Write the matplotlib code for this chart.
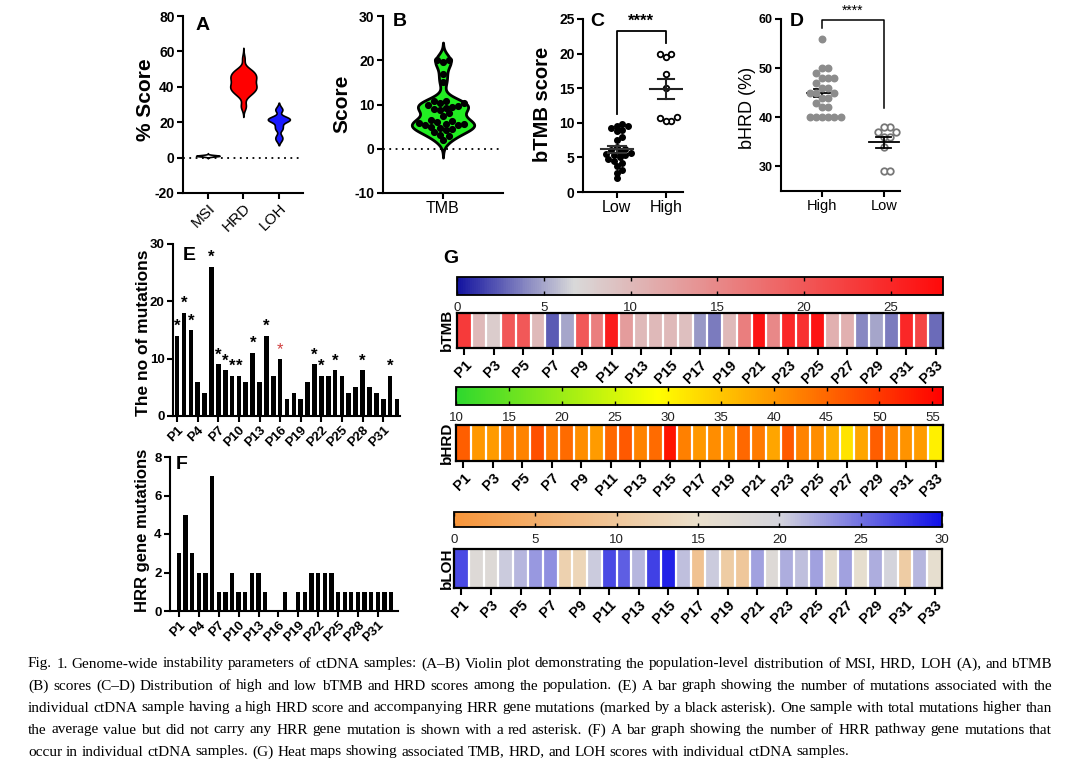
import numpy as np
import matplotlib
matplotlib.use("Agg")
import matplotlib.pyplot as plt
from matplotlib.colors import LinearSegmentedColormap, Normalize
from matplotlib.cm import ScalarMappable

plt.rcParams['font.family'] = ['Liberation Sans', 'DejaVu Sans']

# ---------------- data ----------------
patients = ["P%d" % i for i in range(1, 34)]

msi_score = [1.0, 0.8, 1.2, 1.1, 0.9, 1.0, 1.3, 0.7, 1.0, 1.2, 0.9, 1.1, 1.0, 0.8, 1.4, 1.0, 0.9,
             1.1, 1.2, 1.0, 0.6, 1.0, 1.3, 0.9, 1.1, 1.0, 0.8, 1.2, 1.0, 1.1, 0.9, 1.0, 1.5]

tmb_low = [9.8, 9.6, 9.5, 9.3, 9.0, 8.8, 8.0, 7.5, 6.5, 6.2, 6.0, 5.8, 5.6, 5.5, 5.4, 5.3, 5.0,
           4.8, 4.5, 4.2, 3.8, 3.2, 2.8, 2.0]
tmb_high = [20.0, 20.0, 19.5, 17.0, 15.0, 10.3, 10.8, 10.3, 10.7]

hrd_high = [56, 50, 50, 49, 48, 48, 48, 47, 46, 46, 45, 45, 45, 44, 44, 43, 42, 42, 40, 40, 40, 40, 40, 40]
hrd_low = [38, 37, 38, 37, 36, 36, 34, 29, 29]

total_mutations = [14, 18, 15, 6, 4, 26, 9, 8, 7, 7, 6, 11, 6, 14, 7, 10, 3, 4, 3, 6, 9, 7, 7, 8, 7,
                   4, 5, 8, 5, 4, 3, 7, 3]
black_star = ["P1", "P2", "P3", "P6", "P7", "P8", "P9", "P10", "P12", "P14", "P21", "P22", "P24",
              "P28", "P32"]
red_star = ["P16"]

hrr_mutations = [3, 5, 3, 2, 2, 7, 1, 1, 2, 1, 1, 2, 2, 1, 0, 0, 1, 0, 1, 1, 2, 2, 2, 2, 1, 1, 1,
                 1, 1, 1, 1, 1, 1]

tmb_heat = [23, 10, 8, 20, 20, 10, 2.5, 5, 20, 16, 26, 13, 10, 10, 10, 9.5, 4.5, 3.5, 10, 16, 27,
            15, 25, 24, 27, 11, 11, 4, 5, 3.5, 25, 22, 3]
hrd_heat = [46, 40, 39.5, 43, 42, 47.5, 43, 44.5, 41, 39.5, 45, 46.5, 42, 44.5, 54, 42.5, 40, 41,
            40.5, 45, 43, 38.5, 46.5, 42, 41, 37.5, 32, 38.5, 46, 42, 40.5, 39.5, 30.5]
loh_heat = [27, 18, 18, 20.5, 21.5, 23, 23.5, 12, 13, 20.5, 27, 26, 21.5, 27.5, 29, 21, 9, 20.5,
            11, 10, 22.5, 18, 22, 21, 22.5, 16, 22.5, 16, 22, 20, 11, 21.5, 16]

caption_lines = [
    "Fig. 1.  Genome-wide instability parameters of ctDNA samples: (A–B) Violin plot demonstrating the population-level distribution of MSI, HRD, LOH (A), and bTMB",
    "(B) scores (C–D) Distribution of high and low bTMB and HRD scores among the population. (E) A bar graph showing the number of mutations associated with the",
    "individual ctDNA sample having a high HRD score and accompanying HRR gene mutations (marked by a black asterisk). One sample with total mutations higher than",
    "the average value but did not carry any HRR gene mutation is shown with a red asterisk. (F) A bar graph showing the number of HRR pathway gene mutations that",
    "occur in individual ctDNA samples. (G) Heat maps showing associated TMB, HRD, and LOH scores with individual ctDNA samples.",
]

# ---------------- helpers ----------------
W, H = 1080, 760
fig = plt.figure(figsize=(W / 100, H / 100), dpi=100)


def add_ax(x0, y0, x1, y1):
    return fig.add_axes([x0 / W, 1 - y1 / H, (x1 - x0) / W, (y1 - y0) / H])


def ftext(x, y, s, **kw):
    kw.setdefault('ha', 'center')
    kw.setdefault('va', 'center')
    return fig.text(x / W, 1 - y / H, s, **kw)


def style(ax, yticks, fs=9):
    for s in ['top', 'right']:
        ax.spines[s].set_visible(False)
    for s in ['left', 'bottom']:
        ax.spines[s].set_linewidth(1.5)
    ax.tick_params(width=1.5, length=4, pad=2)
    ax.set_yticks(yticks)
    ax.set_yticklabels([str(t) for t in yticks], fontweight='bold', fontsize=fs)


def violin(ax, data, pos, half_width, bw, ext, color, lw=1.2):
    d = np.asarray(data, float)
    y = np.linspace(d.min() - ext, d.max() + ext, 400)
    dens = np.exp(-0.5 * ((y[:, None] - d[None, :]) / bw) ** 2).sum(axis=1)
    dens = dens / dens.max() * half_width
    ax.fill_betweenx(y, pos - dens, pos + dens, facecolor=color, edgecolor='black',
                     linewidth=lw, zorder=2)


def swarm(vals, px_x, px_y, diam):
    vals = np.asarray(vals, float)
    order = np.argsort(vals)
    placed = []
    offs = np.zeros(len(vals))
    cands = [0.0]
    for j in range(1, 60):
        cands += [j * diam * 0.5, -j * diam * 0.5]
    for i in order:
        y = vals[i] * px_y
        for c in cands:
            if all((c - px) ** 2 + (y - py) ** 2 >= (diam * 0.98) ** 2 for px, py in placed):
                break
        placed.append((c, y))
        offs[i] = c / px_x
    return offs


def mean_sem(ax, vals, pos, half, cap, color, lw=1.5):
    v = np.asarray(vals, float)
    m = v.mean()
    se = v.std(ddof=1) / np.sqrt(len(v))
    ax.plot([pos - half, pos + half], [m, m], color=color, lw=lw, zorder=4)
    ax.plot([pos, pos], [m - se, m + se], color=color, lw=lw, zorder=4)
    ax.plot([pos - cap, pos + cap], [m + se, m + se], color=color, lw=lw, zorder=4)
    ax.plot([pos - cap, pos + cap], [m - se, m - se], color=color, lw=lw, zorder=4)


# ---------------- Panel A ----------------
axA = add_ax(183, 16, 303, 193)
axA.set_ylim(-20, 80)
axA.set_xlim(-0.7, 2.68)
violin(axA, msi_score, 0, 0.33, 0.35, 1.0, 'white')
violin(axA, hrd_high + hrd_low, 1, 0.37, 2.2, 6.0, '#ff0000')
violin(axA, loh_heat, 2, 0.31, 1.2, 2.0, '#1a1aff')
axA.axhline(0, color='black', lw=1.3, ls=(0, (1, 2.5)), zorder=1)
style(axA, [-20, 0, 20, 40, 60, 80], fs=10)
axA.set_xticks([0, 1, 2])
axA.set_xticklabels(["MSI", "HRD", "LOH"], rotation=45, ha='right', rotation_mode='anchor',
                    fontsize=11)
ftext(145, 100, "% Score", rotation=90, fontsize=15, fontweight='bold')
ftext(203, 25, "A", fontsize=14, fontweight='bold')

# ---------------- Panel B ----------------
axB = add_ax(383, 16, 503, 193)
axB.set_ylim(-10, 30)
axB.set_xlim(-1, 1)
tmb_all = tmb_low + tmb_high
violin(axB, tmb_all, 0, 0.52, 1.4, 4.0, '#22ee22', lw=2.0)
offB = swarm(tmb_all, 60, 4.43, 6.0)
axB.scatter(offB, tmb_all, s=17, color='black', zorder=3)
axB.axhline(0, color='black', lw=1.3, ls=(0, (1, 2.5)), zorder=1)
style(axB, [-10, 0, 10, 20, 30], fs=10)
axB.set_xticks([0])
axB.set_xticklabels(["TMB"], fontsize=11.5)
ftext(342, 104, "Score", rotation=90, fontsize=15, fontweight='bold')
ftext(400, 22, "B", fontsize=14, fontweight='bold')

# ---------------- Panel C ----------------
axC = add_ax(583, 19, 683, 192)
axC.set_ylim(0, 25)
axC.set_xlim(-0.69, 1.35)
offL = swarm(tmb_low, 49, 6.9, 5.6)
offH = swarm(tmb_high, 49, 6.9, 5.6)
axC.scatter(offL, tmb_low, s=16, color='black', zorder=3)
axC.scatter(1 + offH, tmb_high, s=16, facecolor='white', edgecolor='black', linewidth=1.3, zorder=3)
mean_sem(axC, tmb_low, 0, 0.33, 0.18, '#333333')
mean_sem(axC, tmb_high, 1, 0.33, 0.16, '#222222')
axC.plot([0, 0, 1, 1], [11.2, 23.2, 23.2, 21.6], color='black', lw=1.3, clip_on=False)
axC.text(0.5, 23.6, "****", ha='center', va='bottom', fontsize=12, fontweight='bold')
style(axC, [0, 5, 10, 15, 20, 25], fs=10)
axC.set_xticks([0, 1])
axC.set_xticklabels(["Low", "High"], fontsize=11.5)
ftext(542, 104, "bTMB score", rotation=90, fontsize=14.5, fontweight='bold')
ftext(597, 22, "C", fontsize=14, fontweight='bold')

# ---------------- Panel D ----------------
axD = add_ax(781, 19, 900, 191)
axD.set_ylim(25, 60)
axD.set_xlim(-0.66, 1.26)
offDH = swarm(hrd_high, 62, 4.9, 6.2)
offDL = swarm(hrd_low, 62, 4.9, 6.2)
mean_sem(axD, hrd_high, 0, 0.24, 0.12, 'black', lw=1.3)
axD.scatter(offDH, hrd_high, s=22, color='#8c8c8c', zorder=5)
axD.scatter(1 + offDL, hrd_low, s=22, facecolor='white', edgecolor='#777777', linewidth=1.3, zorder=3)
mean_sem(axD, hrd_low, 1, 0.24, 0.12, 'black', lw=1.3)
axD.plot([0, 0, 1, 1], [58.2, 59.8, 59.8, 41.8], color='black', lw=1.1, clip_on=False)
axD.text(0.5, 60.3, "****", ha='center', va='bottom', fontsize=10)
style(axD, [30, 40, 50, 60], fs=9)
axD.set_xticks([0, 1])
axD.set_xticklabels(["High", "Low"], fontsize=10.5)
ftext(747, 108, "bHRD (%)", rotation=90, fontsize=13)
ftext(797, 22, "D", fontsize=14, fontweight='bold')

# ---------------- Panel E ----------------
x = np.arange(len(patients))
axE = add_ax(173, 244, 400, 416)
axE.bar(x, total_mutations, width=0.68, color='black')
axE.set_ylim(0, 30)
axE.set_xlim(-0.6, 32.45)
for i, (p, v) in enumerate(zip(patients, total_mutations)):
    if p in black_star:
        axE.text(i, v + 1.6, "*", ha='center', va='center', fontsize=12, fontweight='bold')
    elif p in red_star:
        axE.text(i, v + 1.6, "*", ha='center', va='center', fontsize=12, color='#d04040')
style(axE, [0, 10, 20, 30], fs=9.5)
axE.set_xticks(x[::3])
axE.set_xticklabels(patients[::3], rotation=45, ha='right', rotation_mode='anchor',
                    fontsize=9.5, fontweight='bold')
ftext(143, 333, "The no of mutations", rotation=90, fontsize=12.5, fontweight='bold')
ftext(189, 255, "E", fontsize=14, fontweight='bold')

# ---------------- Panel F ----------------
axF = add_ax(170, 457, 398, 611)
axF.bar(x, hrr_mutations, width=0.65, color='black')
axF.set_ylim(0, 8)
axF.set_xlim(-1.36, 33.05)
style(axF, [0, 2, 4, 6, 8], fs=9.5)
axF.set_xticks(x[::3])
axF.set_xticklabels(patients[::3], rotation=45, ha='right', rotation_mode='anchor',
                    fontsize=9.5, fontweight='bold')
ftext(143, 530, "HRR gene mutations", rotation=90, fontsize=12, fontweight='bold')
ftext(182, 465, "F", fontsize=14, fontweight='bold')

# ---------------- Panel G heatmaps ----------------
cmap_tmb = LinearSegmentedColormap.from_list('tmb', [(0, '#1414a0'), (0.24, '#d9d9d9'), (1, '#ff0a0a')])
cmap_hrd = LinearSegmentedColormap.from_list('hrd', [(0, '#2ed82e'), ((29 - 10) / 46, '#ffff00'),
                                                     (1, '#ff0000')])
cmap_loh = LinearSegmentedColormap.from_list('loh', [(0, '#f7953a'), (0.5, '#ebe0cc'),
                                                     (0.667, '#d4d4dc'), (1, '#1010e8')])

heat_specs = [
    ("bTMB", tmb_heat, cmap_tmb, 0, 28, [0, 5, 10, 15, 20, 25], (457, 277, 943, 295), (457, 313, 943, 348), 330),
    ("bHRD", hrd_heat, cmap_hrd, 10, 56, list(range(10, 60, 5)), (456, 387, 943, 405), (456, 425, 943, 461), 443),
    ("bLOH", loh_heat, cmap_loh, 0, 30, [0, 5, 10, 15, 20, 25, 30], (454, 512, 942, 527), (454, 549, 942, 588), 568),
]

for name, vals, cmap, vmin, vmax, cticks, cbox, hbox, ylab_y in heat_specs:
    cax = add_ax(*cbox)
    sm = ScalarMappable(norm=Normalize(vmin, vmax), cmap=cmap)
    cb = fig.colorbar(sm, cax=cax, orientation='horizontal')
    cb.outline.set_linewidth(1.3)
    cb.set_ticks(cticks)
    cax.tick_params(axis='x', direction='in', length=3, width=1, top=True, bottom=True,
                    labelsize=9.5, labelcolor='#222222', pad=5)

    hax = add_ax(*hbox)
    hax.pcolormesh(np.arange(len(vals) + 1) - 0.5, [0, 1], np.array([vals]), cmap=cmap,
                   vmin=vmin, vmax=vmax)
    for i in range(len(vals) - 1):
        hax.axvline(i + 0.5, color='white', lw=1.6)
    hax.set_xlim(-0.5, len(vals) - 0.5)
    hax.set_ylim(0, 1)
    hax.set_yticks([])
    for s in hax.spines.values():
        s.set_linewidth(1.6)
    hax.set_xticks(np.arange(len(vals))[::2])
    hax.set_xticklabels(patients[::2], rotation=45, ha='right', rotation_mode='anchor',
                        fontsize=10.5, fontweight='bold')
    hax.tick_params(axis='x', length=5, width=1.5, pad=2)
    ftext(447, ylab_y, name, rotation=90, fontsize=11, fontweight='bold')

ftext(451, 258, "G", fontsize=14, fontweight='bold')

# ---------------- caption (justified) ----------------
renderer = fig.canvas.get_renderer()
cap_family = 'Liberation Serif'
x_left, x_right = 28, 1052
widths = []
for line in caption_lines:
    t = fig.text(0, 0, line, fontsize=10, family=cap_family)
    widths.append(t.get_window_extent(renderer).width)
    t.remove()
scale = min([855 / widths[-1]] + [(x_right - x_left - 4) / w for w in widths[:-1]])
cap_fs = 10 * scale
cap_y = [664, 686, 708, 730, 752]
t1 = fig.text(0, 0, "a b", fontsize=cap_fs, family=cap_family)
t2 = fig.text(0, 0, "ab", fontsize=cap_fs, family=cap_family)
space_w = t1.get_window_extent(renderer).width - t2.get_window_extent(renderer).width
t1.remove()
t2.remove()
for li, line in enumerate(caption_lines):
    words = line.split()
    texts = [fig.text(0, 0, w, fontsize=cap_fs, family=cap_family, va='center') for w in words]
    ws = [t.get_window_extent(renderer).width for t in texts]
    if li < len(caption_lines) - 1:
        gap = (x_right - x_left - sum(ws)) / (len(words) - 1)
    else:
        gap = space_w
    xx = x_left
    for t, w in zip(texts, ws):
        t.set_position((xx / W, 1 - cap_y[li] / H))
        xx += w + gap

fig.savefig("out.png", dpi=100)
